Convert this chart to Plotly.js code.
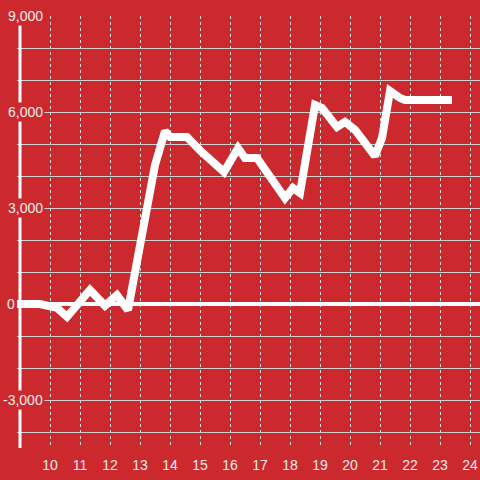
<!DOCTYPE html>
<html>
<head>
<meta charset="utf-8">
<script src="https://cdn.plot.ly/plotly-3.0.1.min.js"></script>
<style>html,body{margin:0;padding:0;background:#cc292e;}#chart{width:480px;height:480px;}</style>
</head>
<body>
<div id="chart"></div>
<script>
// Series values
const xValues = [8.9, 9.667, 10.233, 10.567, 11.333, 11.833, 12.233, 12.6, 13.5, 13.833, 14.0, 14.567, 15.0, 15.8, 16.267, 16.5, 16.9, 17.833, 18.1, 18.333, 18.833, 19.067, 19.567, 19.833, 20.167, 20.833, 21.067, 21.333, 21.667, 21.833, 23.4];
const yValues = [0, 0, -120, -400, 440, -50, 280, -190, 4340, 5400, 5220, 5220, 4800, 4125, 4870, 4560, 4560, 3310, 3625, 3470, 6220, 6125, 5530, 5690, 5440, 4625, 5190, 6660, 6440, 6375, 6375];
// Tick labels
const xTickVals = [10, 11, 12, 13, 14, 15, 16, 17, 18, 19, 20, 21, 22, 23, 24];
const xTickText = ['10', '11', '12', '13', '14', '15', '16', '17', '18', '19', '20', '21', '22', '23', '24'];
const yTickVals = [9000, 6000, 3000, 0, -3000];
const yTickText = ['9,000', '6,000', '3,000', '0', '-3,000'];

const RED = '#cc292e';
const TXT = '#eeeeee';
const FONT = 'Liberation Sans, Arial, sans-serif';
const X_MIN = 8.9, X_MAX = 24.333, Y_MIN = -4500, Y_MAX = 9000;

const trace = {
  x: xValues, y: yValues, type: 'scatter', mode: 'lines',
  line: {color: '#ffffff', width: 8},
  hoverinfo: 'skip'
};

const annotations = yTickVals.map((v, i) => {
  const isZero = v === 0;
  return {
    xref: 'x', yref: 'y', x: isZero ? 8.9 : 9.833, y: v,
    xanchor: 'right', yanchor: 'middle',
    text: yTickText[i], showarrow: false,
    bgcolor: RED, borderpad: 1,
    font: {family: FONT, size: 14, color: TXT}
  };
});

const layout = {
  width: 480, height: 480,
  margin: {l: 17, r: 0, t: 16, b: 32},
  paper_bgcolor: RED, plot_bgcolor: RED,
  showlegend: false,
  xaxis: {
    range: [X_MIN, X_MAX],
    tickvals: xTickVals, ticktext: xTickText,
    showgrid: true, gridcolor: '#d8d8d8', gridwidth: 1, griddash: '3px,3px',
    zeroline: false, showline: false,
    ticks: 'outside', ticklen: 4, tickcolor: 'rgba(0,0,0,0)',
    tickfont: {family: FONT, size: 14, color: TXT},
    fixedrange: true
  },
  yaxis: {
    range: [Y_MIN, Y_MAX],
    dtick: 1000, tick0: 0,
    showticklabels: false, ticks: '',
    showgrid: true, gridcolor: '#d0d0d0', gridwidth: 1,
    zeroline: true, zerolinecolor: '#ffffff', zerolinewidth: 4,
    showline: false, fixedrange: true
  },
  shapes: [{
    type: 'line', xref: 'x', yref: 'y',
    x0: 9, x1: 9, y0: Y_MIN, y1: Y_MAX,
    line: {color: '#ffffff', width: 3}, layer: 'above'
  }],
  annotations: annotations
};

Plotly.newPlot('chart', [trace], layout, {displayModeBar: false, staticPlot: true});
</script>
</body>
</html>
